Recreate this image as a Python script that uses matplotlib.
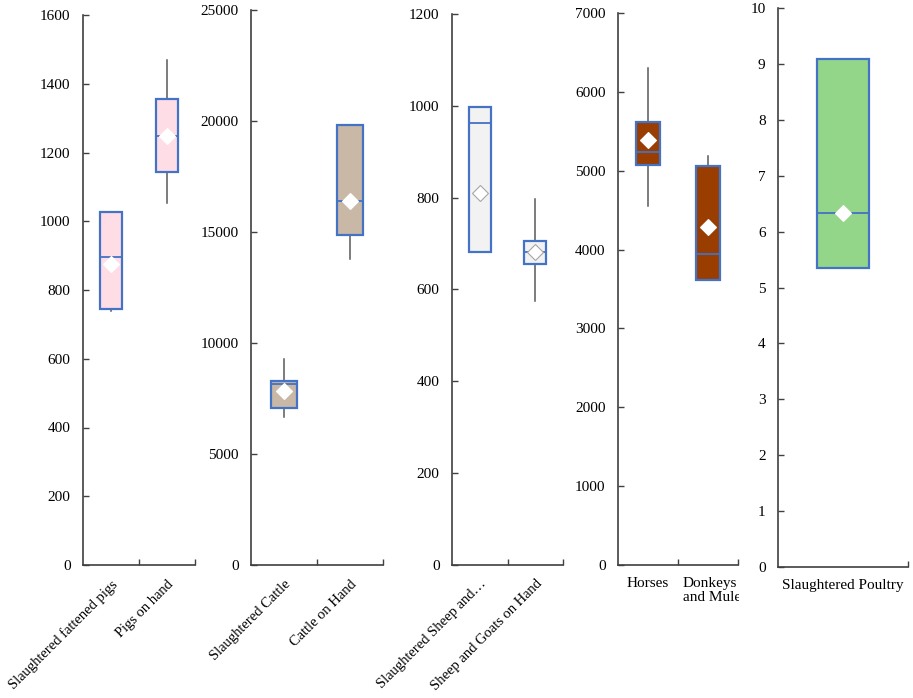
import matplotlib
matplotlib.use("Agg")
import matplotlib.pyplot as plt
from matplotlib.transforms import Bbox, ScaledTranslation

plt.rcParams['font.family'] = ['Liberation Serif', 'DejaVu Serif']

# ---- data ----
pig_labels = ["Slaughtered fattened pigs", "Pigs on hand"]
pig_whislo = [738, 1052]
pig_q1 = [744, 1144]
pig_med = [895, 1249]
pig_q3 = [1028, 1356]
pig_whishi = [1028, 1469]
pig_mean = [876, 1249]

cattle_labels = ["Slaughtered Cattle", "Cattle on Hand"]
cattle_whislo = [6680, 13790]
cattle_q1 = [7076, 14860]
cattle_med = [8146, 16414]
cattle_q3 = [8284, 19831]
cattle_whishi = [9286, 19831]
cattle_mean = [7853, 16400]

sheep_labels = ["Slaughtered Sheep and\u2026", "Sheep and Goats on Hand"]
sheep_whislo = [681, 576]
sheep_q1 = [681, 656]
sheep_med = [963, 681]
sheep_q3 = [998, 706]
sheep_whishi = [998, 798]
sheep_mean = [811, 681]

horse_labels = ["Horses", "Donkeys\nand Mules"]
horse_whislo = [4551, 3608]
horse_q1 = [5073, 3608]
horse_med = [5243, 3939]
horse_q3 = [5620, 5058]
horse_whishi = [6297, 5183]
horse_mean = [5384, 4280]

poultry_labels = ["Slaughtered Poultry"]
poultry_whislo = [5.35]
poultry_q1 = [5.35]
poultry_med = [6.34]
poultry_q3 = [9.08]
poultry_whishi = [9.08]
poultry_mean = [6.33]

W, H = 913, 698
fig = plt.figure(figsize=(W / 100, H / 100), dpi=100)

BLUE = "#4472C4"
AXC = "#404040"


def stats(labels, lo, q1, med, q3, hi, mean):
    return [dict(label=l, whislo=a, q1=b, med=c, q3=d, whishi=e, mean=m)
            for l, a, b, c, d, e, m in zip(labels, lo, q1, med, q3, hi, mean)]


def panel(px_left, px_right, px_top, px_bottom, st, ymax, yticks, fill,
          mean_face="white", mean_edge="white", rot=True):
    ax = fig.add_axes([px_left / W, 1 - px_bottom / H,
                       (px_right - px_left) / W, (px_bottom - px_top) / H])
    n = len(st)
    bp = ax.bxp(st, positions=list(range(1, n + 1)), widths=0.4,
                showmeans=True, showcaps=False, showfliers=False,
                patch_artist=True,
                boxprops=dict(facecolor=fill, edgecolor=BLUE, linewidth=1.6),
                medianprops=dict(color=BLUE, linewidth=1.3),
                whiskerprops=dict(color="#595959", linewidth=1.1),
                meanprops=dict(marker="D", markerfacecolor=mean_face,
                               markeredgecolor=mean_edge, markersize=8,
                               markeredgewidth=0.8))
    for w in bp['whiskers']:
        w.set_zorder(1)
    ax.set_xlim(0.5, n + 0.5)
    ax.set_ylim(0, ymax)
    ax.set_yticks(yticks)
    ax.set_yticklabels([str(v) for v in yticks], fontsize=11)
    ax.tick_params(axis='y', direction='in', length=4, width=1, color=AXC, pad=9)
    ax.set_xticks([i + 0.5 for i in range(1, n + 1)], minor=True)
    ax.set_xticks(list(range(1, n + 1)))
    ax.tick_params(axis='x', which='minor', direction='in', length=4, width=1, color=AXC)
    ax.tick_params(axis='x', which='major', length=0)
    if rot:
        ax.set_xticklabels([s['label'] for s in st], rotation=45, ha='right',
                           rotation_mode='anchor', fontsize=10.5)
        ax.tick_params(axis='x', which='major', pad=9)
    else:
        ax.set_xticklabels([])
    for s in ['top', 'right']:
        ax.spines[s].set_visible(False)
    for s in ['left', 'bottom']:
        ax.spines[s].set_color(AXC)
        ax.spines[s].set_linewidth(1.2)
    ax.patch.set_alpha(0)
    return ax


panel(83, 195, 15, 565, stats(pig_labels, pig_whislo, pig_q1, pig_med, pig_q3, pig_whishi, pig_mean),
      1600, list(range(0, 1601, 200)), "#FFDDE6")
panel(251, 383, 10, 565, stats(cattle_labels, cattle_whislo, cattle_q1, cattle_med, cattle_q3, cattle_whishi, cattle_mean),
      25000, list(range(0, 25001, 5000)), "#C9B8A6")
panel(452, 563, 14, 565, stats(sheep_labels, sheep_whislo, sheep_q1, sheep_med, sheep_q3, sheep_whishi, sheep_mean),
      1200, list(range(0, 1201, 200)), "#F2F2F2", mean_face="white", mean_edge="#A6A6A6")
ax4 = panel(618, 738, 13, 565, stats(horse_labels, horse_whislo, horse_q1, horse_med, horse_q3, horse_whishi, horse_mean),
            7000, list(range(0, 7001, 1000)), "#993D00", rot=False)
ax5 = panel(778, 908, 8, 567, stats(poultry_labels, poultry_whislo, poultry_q1, poultry_med, poultry_q3, poultry_whishi, poultry_mean),
            10, list(range(0, 11)), "#93D689", rot=False)

# horizontal labels for the last two panels (the long one is cut at the panel edge, as in the reference)
clip = Bbox.from_extents(0, 0, 739, H)
shifts = [0, 7]
for i, lab in enumerate(horse_labels):
    tr = ax4.get_xaxis_transform() + ScaledTranslation(shifts[i] / 100, 0, fig.dpi_scale_trans)
    t = ax4.text(i + 1, -0.022, lab, transform=tr,
                 ha='center', va='top', fontsize=11, linespacing=1.1,
                 multialignment='left', clip_on=True)
    t.set_clip_box(clip)
for i, lab in enumerate(poultry_labels):
    ax5.text(i + 1, -0.022, lab, transform=ax5.get_xaxis_transform(),
             ha='center', va='top', fontsize=11)

fig.savefig("out.png", dpi=100)
